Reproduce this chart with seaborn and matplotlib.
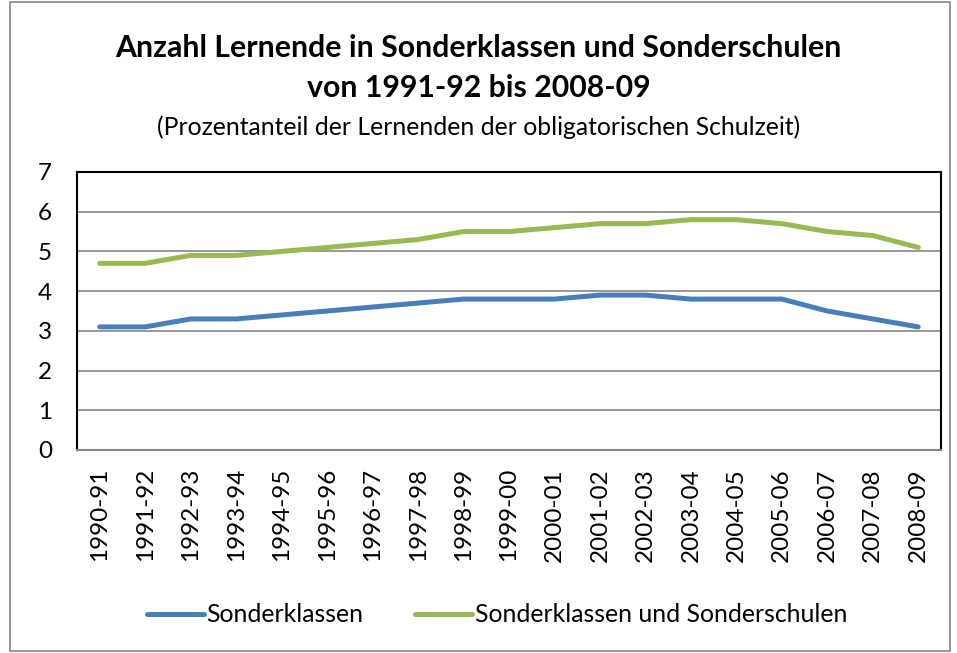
import matplotlib
matplotlib.use('Agg')
import matplotlib.pyplot as plt
import seaborn as sns
import pandas as pd
from matplotlib.patches import Rectangle

jahre = ['1990-91', '1991-92', '1992-93', '1993-94', '1994-95', '1995-96', '1996-97',
         '1997-98', '1998-99', '1999-00', '2000-01', '2001-02', '2002-03', '2003-04',
         '2004-05', '2005-06', '2006-07', '2007-08', '2008-09']
sonderklassen = [3.1, 3.1, 3.3, 3.3, 3.4, 3.5, 3.6, 3.7, 3.8, 3.8, 3.8, 3.9, 3.9, 3.8,
                 3.8, 3.8, 3.5, 3.3, 3.1]
beide = [4.7, 4.7, 4.9, 4.9, 5.0, 5.1, 5.2, 5.3, 5.5, 5.5, 5.6, 5.7, 5.7, 5.8,
         5.8, 5.7, 5.5, 5.4, 5.1]
serien = ['Sonderklassen', 'Sonderklassen und Sonderschulen']
farben = ['#4a7ebb', '#98b954']

df = pd.DataFrame({
    'Jahr': jahre * 2,
    'Anteil': sonderklassen + beide,
    'Serie': [serien[0]] * len(jahre) + [serien[1]] * len(jahre),
})

sns.set_style('white')
plt.rcParams['font.family'] = ['Lato', 'DejaVu Sans']
plt.rcParams['text.color'] = 'black'

fig = plt.figure(figsize=(9.57, 6.53), dpi=100)
ax = fig.add_axes([77 / 957, 1 - 450 / 653, 864 / 957, 278 / 653])

sns.lineplot(data=df, x='Jahr', y='Anteil', hue='Serie', palette=farben,
             linewidth=3.6, sort=False, ax=ax, legend=False)
for l in ax.lines:
    l.set_solid_capstyle('round')
    l.set_solid_joinstyle('round')

ax.set_xlim(-0.5, len(jahre) - 0.5)
ax.set_ylim(0, 7)
ax.set_yticks(range(0, 8))
ax.yaxis.grid(True, color='#868686', linewidth=1.2)
ax.set_axisbelow(True)
ax.set_xlabel('')
ax.set_ylabel('')
ax.set_xticks(range(len(jahre)))
ax.set_xticklabels(jahre, rotation=90)
ax.tick_params(axis='both', length=0, labelsize=17.5, colors='black')
ax.tick_params(axis='x', pad=13)
ax.tick_params(axis='y', pad=18)
for s in ['left', 'top', 'right']:
    ax.spines[s].set_color('black')
    ax.spines[s].set_linewidth(1.5)
ax.spines['bottom'].set_color('#868686')
ax.spines['bottom'].set_linewidth(1.5)

fig.text(0.5, 1 - 48 / 653, 'Anzahl Lernende in Sonderklassen und Sonderschulen',
         ha='center', va='center', fontsize=21.8, fontweight='bold', color='black')
fig.text(0.5, 1 - 88 / 653, 'von 1991-92 bis 2008-09',
         ha='center', va='center', fontsize=21.8, fontweight='bold', color='black')
fig.text(0.5, 1 - 127 / 653, '(Prozentanteil der Lernenden der obligatorischen Schulzeit)',
         ha='center', va='center', fontsize=17.8, color='black')

handles = [plt.Line2D([], [], color=c, linewidth=3.6, solid_capstyle='round') for c in farben]
fig.legend(handles, serien, loc='center', bbox_to_anchor=(497 / 957, 1 - 615 / 653), ncol=2,
           frameon=False, fontsize=17.8, handlelength=2.3, handletextpad=0.1,
           columnspacing=2.1)

fig.patches.append(Rectangle((10 / 957, 2 / 653), 940 / 957, 649 / 653,
                             transform=fig.transFigure, fill=False,
                             edgecolor='#868686', linewidth=1.2))

fig.savefig('out.png', dpi=100)
